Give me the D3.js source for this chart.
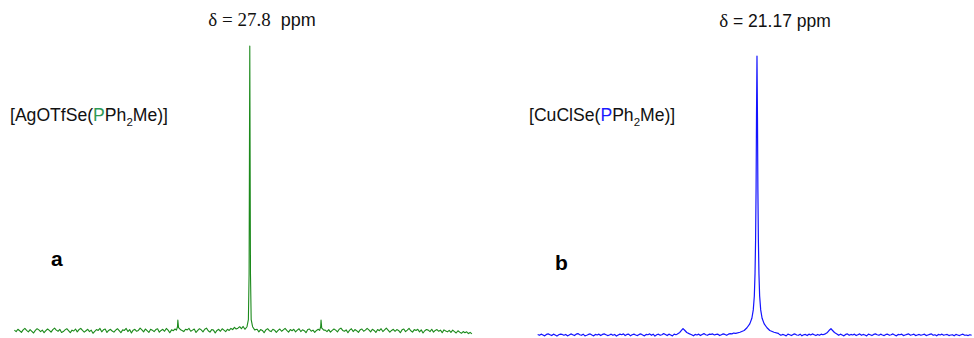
<!DOCTYPE html>
<html>
<head>
<meta charset="utf-8">
<script src="https://cdn.jsdelivr.net/npm/d3@7"></script>
<style>
  html, body { margin: 0; padding: 0; background: #fff; }
  svg { display: block; }
</style>
</head>
<body>
<div id="chart"></div>
<script>
// ── Data (intensity 0–100, ppm) ─────────────────
// baseline noise, one sample every 0.25 ppm
const STEP = 0.25;
const AG_START = 61.5;
const agNoise = [
  0.3,-0.2,0.6,0.1,-0.5,0.4,0.9,0.2,-0.3,0.5,-0.1,-0.7,0.2,0.8,0.4,-0.2,0.3,-0.6,0.1,0.7,
  0.2,-0.4,0.5,1.0,0.3,-0.1,0.6,-0.5,-0.2,0.4,0.8,0.1,-0.6,0.3,0.0,0.7,-0.3,0.5,0.9,0.2,
  -0.4,0.1,0.6,-0.2,0.3,-0.8,-0.1,0.5,0.2,0.9,-0.3,0.4,0.7,-0.5,0.2,0.6,0.0,-0.4,0.3,0.8,
  0.1,-0.6,0.4,0.2,0.9,-0.2,0.5,-0.7,0.3,0.6,-0.1,0.2,1.0,0.4,-0.3,0.7,0.1,-0.5,0.6,0.3,
  -0.2,0.5,0.8,-0.4,0.2,0.6,-0.1,0.9,0.3,-0.6,0.4,0.1,0.7,-0.3,0.5,1.1,0.2,-0.2,0.6,0.4,
  0.9,-0.1,0.3,0.7,-0.5,0.2,0.8,0.4,-0.3,0.6,1.0,0.1,-0.4,0.5,0.3,-0.7,0.2,0.6,-0.1,0.8,
  0.3,-0.2,0.6,0.2,0.9,0.5,1.3,0.7,1.0,1.5,0.8,1.6,0.5,0.4,0.3,0.2,0.1,0.4,-0.2,0.6,
  -0.3,0.5,0.2,-0.6,0.4,0.8,0.1,-0.2,0.6,0.3,-0.5,0.2,0.7,-0.1,0.4,0.9,0.2,-0.4,0.5,0.1,
  0.6,-0.3,0.3,0.8,-0.2,0.4,0.1,-0.6,0.5,0.7,-0.1,0.3,-0.5,0.2,0.6,0.0,0.4,0.9,0.3,-0.2,
  0.5,-0.4,0.2,0.7,0.3,-0.3,0.6,1.0,0.2,-0.1,0.4,-0.6,0.3,0.8,-0.2,0.5,0.1,-0.5,0.4,0.7,
  -0.1,0.3,0.9,0.4,-0.3,0.6,0.2,-0.5,0.5,0.1,0.8,-0.2,0.4,1.0,0.3,-0.4,0.2,0.6,-0.1,0.5,
  0.2,-0.6,0.4,0.7,-0.2,0.3,0.9,0.1,-0.4,0.5,0.2,0.6,-0.3,0.4,-0.7,0.1,0.5,0.3,-0.2,0.6,
  -0.4,0.2,0.5,-0.1,0.3,-0.6,0.4,0.0,-0.3,0.2,-0.5,0.3,-0.2,-0.7,0.1,-0.4,-0.8,-0.2,-0.6,-0.3,
  -0.9,-0.5,-1.0
];
const agPeaks = [
  // Se satellite
  [38.3,0.3],[38.15,1.5],[38.1,3.8],[38.0,1.2],[37.85,0.8],[37.7,0.4],
  // main signal δ 27.8
  [28.5,0.6],[28.2,1.5],[28.0,4],[27.9,20],[27.85,60],[27.8,100],[27.75,60],[27.7,20],[27.6,4],[27.4,1.5],[27.1,0.4],
  // Se satellite
  [17.8,0.2],[17.65,1.5],[17.6,3.8],[17.5,1.0],[17.35,0.7],[17.2,0.3]
];

const CU_START = 52.5;
const cuNoise = [
  0.2,-0.1,0.3,0.0,-0.3,0.2,0.4,0.1,-0.2,0.3,0.0,-0.4,0.1,0.3,0.2,-0.1,0.2,-0.3,0.0,0.4,
  0.1,-0.2,0.3,0.5,0.1,-0.1,0.3,-0.3,-0.1,0.2,0.4,0.0,-0.3,0.2,0.0,0.3,-0.2,0.2,0.4,0.1,
  -0.2,0.0,0.3,-0.1,0.2,-0.4,0.0,0.3,0.1,0.4,-0.2,0.2,0.3,-0.3,0.1,0.3,0.0,-0.2,0.2,0.4,
  0.0,-0.3,0.2,0.1,0.4,-0.1,0.3,-0.4,0.1,0.3,-0.1,0.1,0.5,0.2,-0.2,0.3,0.0,-0.3,0.3,0.1,
  -0.1,0.2,0.4,-0.2,0.1,0.3,0.0,0.4,0.1,-0.3,0.2,0.0,0.3,-0.2,0.2,0.5,0.1,-0.1,0.3,0.2,
  0.4,0.0,0.2,0.3,-0.2,0.1,0.4,0.2,-0.1,0.3,0.5,0.4,0.7,0.6,0.3,0.2,0.1,0.3,0.2,0.1,
  0.0,0.2,0.1,0.3,0.2,0.1,0.0,0.2,0.1,0.3,0.2,0.1,0.0,0.2,0.1,0.3,0.2,0.4,0.3,-0.1,
  0.2,0.0,-0.3,0.3,0.1,-0.2,0.2,0.4,0.0,-0.1,0.3,-0.3,0.1,0.2,-0.2,0.3,0.0,0.4,0.1,-0.2,
  0.2,-0.1,0.3,0.1,-0.3,0.2,0.0,0.3,-0.2,0.1,0.4,0.1,-0.1,0.3,0.0,-0.3,0.2,0.4,-0.1,0.2,
  0.0,0.3,-0.2,0.1,0.4,-0.1,0.2,0.0,-0.3,0.3,0.1,-0.2,0.2,0.4,0.1,-0.1,0.3,0.0,-0.2,0.2,
  0.3,-0.1,0.1,0.4,0.0,-0.3,0.2,0.1,0.3,-0.2,0.0,0.2,0.4,-0.1,0.1,0.3,-0.2,0.0,0.2,-0.1,
  0.1,0.3,-0.2,0.0,0.2,0.4,-0.1,0.1,-0.3,0.2,0.0,0.3,-0.1,0.1,0.2,-0.2,0.0,0.1,-0.3,0.2,
  0.0,-0.2,0.1,0.3,-0.1,0.0,-0.2,0.1,-0.1
];
const cuPeaks = [
  [32.6,0.3],[32.2,0.9],[31.9,1.8],[31.74,2.3],[31.5,1.7],[31.2,0.9],[30.8,0.4],
  [24.2,0.6],[23.6,1.0],[23.0,1.6],[22.6,2.6],[22.2,4.0],[21.9,6.0],[21.7,9],[21.55,14],
  [21.45,22],[21.37,34],[21.3,52],[21.24,78],[21.17,100],[21.1,78],[21.04,52],[20.97,34],
  [20.89,22],[20.79,14],[20.64,9],[20.44,6],[20.14,4],[19.74,2.6],[19.34,1.6],[18.74,1.0],[18.14,0.6],
  [11.5,0.3],[11.1,0.9],[10.8,1.8],[10.6,2.3],[10.4,1.7],[10.1,0.9],[9.7,0.3]
];

const W = 974, H = 338;
const FONT = "'Liberation Sans', Arial, sans-serif";
const SERIF = "'Liberation Serif', 'Times New Roman', serif";

const svg = d3.select("#chart").append("svg").attr("width", W).attr("height", H);

// merge baseline samples with peak points, peaks win inside their own span
function buildSeries(start, noise, peaks) {
  const groups = [];
  let cur = [peaks[0]];
  for (let i = 1; i < peaks.length; i++) {
    if (cur[cur.length - 1][0] - peaks[i][0] > 1.5) { groups.push(cur); cur = []; }
    cur.push(peaks[i]);
  }
  groups.push(cur);
  const spans = groups.map(g => [g[g.length - 1][0], g[0][0]]);
  const base = noise.map((v, i) => [start - STEP * i, v])
    .filter(d => !spans.some(s => d[0] >= s[0] - 0.1 && d[0] <= s[1] + 0.1));
  return base.concat(peaks).sort((a, b) => b[0] - a[0]);
}

function drawSpectrum(opts) {
  const x = d3.scaleLinear().domain(opts.ppm).range(opts.xRange);
  const y = d3.scaleLinear().domain([0, 100]).range(opts.yRange);
  const line = d3.line().x(d => x(d[0])).y(d => y(d[1]));
  svg.append("path")
    .datum(buildSeries(opts.start, opts.noise, opts.peaks))
    .attr("fill", "none")
    .attr("stroke", opts.color)
    .attr("stroke-width", opts.width)
    .attr("stroke-linejoin", "round")
    .attr("d", line);
}

drawSpectrum({ ppm: [61.7, -4.3], xRange: [13, 474], yRange: [331, 46],
  start: AG_START, noise: agNoise, peaks: agPeaks, color: "#1c8a1c", width: 1.1 });
drawSpectrum({ ppm: [52.74, -9.69], xRange: [536, 973], yRange: [335, 56],
  start: CU_START, noise: cuNoise, peaks: cuPeaks, color: "#1414ff", width: 1.2 });

// ── Shift labels ────────────────────────────────
const t1 = svg.append("text").attr("x", 262).attr("y", 26)
  .attr("text-anchor", "middle").attr("font-size", "18px").attr("fill", "#111");
t1.append("tspan").attr("font-family", SERIF).attr("font-size", "19px").text("δ = 27.8");
t1.append("tspan").attr("font-family", FONT).attr("dx", 10).text("ppm");

const t2 = svg.append("text").attr("x", 775).attr("y", 27)
  .attr("text-anchor", "middle").attr("font-size", "17.5px").attr("fill", "#111");
t2.append("tspan").attr("font-family", SERIF).attr("font-size", "19px").text("δ");
t2.append("tspan").attr("font-family", FONT).text(" = 21.17 ppm");

// ── Compound labels ─────────────────────────────
function compound(xPos, yPos, head, pColor) {
  const t = svg.append("text").attr("x", xPos).attr("y", yPos)
    .attr("font-family", FONT).attr("font-size", "17.6px").attr("fill", "#111");
  t.append("tspan").text(head + "(");
  t.append("tspan").attr("fill", pColor).text("P");
  t.append("tspan").text("Ph");
  t.append("tspan").attr("font-size", "11.5px").attr("dy", 5).text("2");
  t.append("tspan").attr("dy", -5).text("Me)]");
}
compound(10, 121, "[AgOTfSe", "#2e9a55");
compound(529, 121, "[CuClSe", "#1a1aff");

svg.append("text").attr("x", 51).attr("y", 266)
  .attr("font-family", FONT).attr("font-weight", "bold").attr("font-size", "21px")
  .attr("fill", "#000").text("a");
svg.append("text").attr("x", 555).attr("y", 270)
  .attr("font-family", FONT).attr("font-weight", "bold").attr("font-size", "21px")
  .attr("fill", "#000").text("b");
</script>
</body>
</html>
